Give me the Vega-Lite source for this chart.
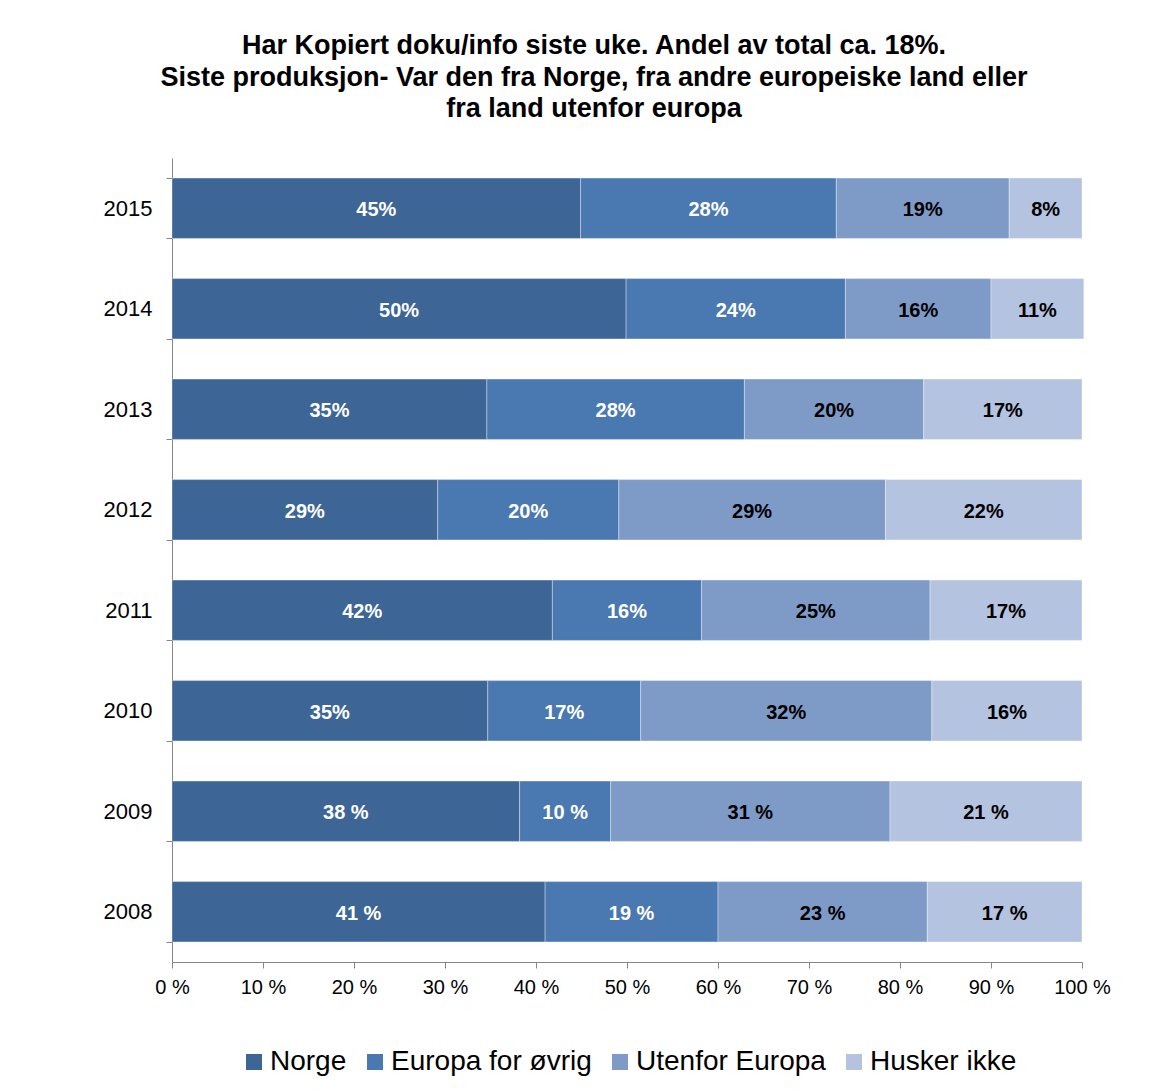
{
  "$schema": "https://vega.github.io/schema/vega-lite/v6.json",
  "width": 910,
  "height": 804,
  "autosize": {"type": "none"},
  "padding": {"left": 172, "top": 158, "right": 85, "bottom": 128},
  "background": "white",
  "config": {"font": "Liberation Sans", "view": {"stroke": null}},
  "title": {
    "text": ["Har Kopiert doku/info siste uke. Andel av total ca. 18%.", "Siste produksjon- Var den fra Norge, fra andre europeiske land eller", "fra land utenfor europa"],
    "fontSize": 27,
    "fontWeight": "bold",
    "color": "black",
    "anchor": "middle",
    "dx": -33,
    "offset": 24,
    "lineHeight": 31.5
  },
  "data": {
    "values": [
      {"year": "2015", "cat": "Norge", "k": 1, "v": 44.9, "lbl": "45%"},
      {"year": "2015", "cat": "Europa for øvrig", "k": 2, "v": 28.1, "lbl": "28%"},
      {"year": "2015", "cat": "Utenfor Europa", "k": 3, "v": 19.0, "lbl": "19%"},
      {"year": "2015", "cat": "Husker ikke", "k": 4, "v": 8.0, "lbl": "8%"},
      {"year": "2014", "cat": "Norge", "k": 1, "v": 49.9, "lbl": "50%"},
      {"year": "2014", "cat": "Europa for øvrig", "k": 2, "v": 24.1, "lbl": "24%"},
      {"year": "2014", "cat": "Utenfor Europa", "k": 3, "v": 16.0, "lbl": "16%"},
      {"year": "2014", "cat": "Husker ikke", "k": 4, "v": 10.2, "lbl": "11%"},
      {"year": "2013", "cat": "Norge", "k": 1, "v": 34.6, "lbl": "35%"},
      {"year": "2013", "cat": "Europa for øvrig", "k": 2, "v": 28.3, "lbl": "28%"},
      {"year": "2013", "cat": "Utenfor Europa", "k": 3, "v": 19.7, "lbl": "20%"},
      {"year": "2013", "cat": "Husker ikke", "k": 4, "v": 17.4, "lbl": "17%"},
      {"year": "2012", "cat": "Norge", "k": 1, "v": 29.2, "lbl": "29%"},
      {"year": "2012", "cat": "Europa for øvrig", "k": 2, "v": 19.9, "lbl": "20%"},
      {"year": "2012", "cat": "Utenfor Europa", "k": 3, "v": 29.3, "lbl": "29%"},
      {"year": "2012", "cat": "Husker ikke", "k": 4, "v": 21.6, "lbl": "22%"},
      {"year": "2011", "cat": "Norge", "k": 1, "v": 41.8, "lbl": "42%"},
      {"year": "2011", "cat": "Europa for øvrig", "k": 2, "v": 16.4, "lbl": "16%"},
      {"year": "2011", "cat": "Utenfor Europa", "k": 3, "v": 25.1, "lbl": "25%"},
      {"year": "2011", "cat": "Husker ikke", "k": 4, "v": 16.7, "lbl": "17%"},
      {"year": "2010", "cat": "Norge", "k": 1, "v": 34.7, "lbl": "35%"},
      {"year": "2010", "cat": "Europa for øvrig", "k": 2, "v": 16.8, "lbl": "17%"},
      {"year": "2010", "cat": "Utenfor Europa", "k": 3, "v": 32.0, "lbl": "32%"},
      {"year": "2010", "cat": "Husker ikke", "k": 4, "v": 16.5, "lbl": "16%"},
      {"year": "2009", "cat": "Norge", "k": 1, "v": 38.2, "lbl": "38 %"},
      {"year": "2009", "cat": "Europa for øvrig", "k": 2, "v": 10.0, "lbl": "10 %"},
      {"year": "2009", "cat": "Utenfor Europa", "k": 3, "v": 30.7, "lbl": "31 %"},
      {"year": "2009", "cat": "Husker ikke", "k": 4, "v": 21.1, "lbl": "21 %"},
      {"year": "2008", "cat": "Norge", "k": 1, "v": 41.0, "lbl": "41 %"},
      {"year": "2008", "cat": "Europa for øvrig", "k": 2, "v": 19.0, "lbl": "19 %"},
      {"year": "2008", "cat": "Utenfor Europa", "k": 3, "v": 23.0, "lbl": "23 %"},
      {"year": "2008", "cat": "Husker ikke", "k": 4, "v": 17.0, "lbl": "17 %"}
    ]
  },
  "encoding": {
    "y": {
      "field": "year",
      "type": "ordinal",
      "sort": "descending",
      "scale": {"paddingInner": 0.4, "paddingOuter": 0.2},
      "axis": {
        "title": null,
        "tickBand": "extent",
        "domainColor": "#868686",
        "tickColor": "#868686",
        "tickSize": 6,
        "labelFontSize": 22,
        "labelColor": "black",
        "labelPadding": 14
      }
    }
  },
  "layer": [
    {
      "mark": {"type": "bar", "stroke": "white", "strokeWidth": 1, "strokeOpacity": 0.35},
      "encoding": {
        "x": {
          "field": "v",
          "type": "quantitative",
          "stack": "zero",
          "scale": {"domain": [0, 100], "nice": false},
          "axis": {
            "title": null,
            "values": [0, 10, 20, 30, 40, 50, 60, 70, 80, 90, 100],
            "labelExpr": "datum.value + ' %'",
            "grid": false,
            "domainColor": "#868686",
            "tickColor": "#868686",
            "tickSize": 6,
            "labelFontSize": 20,
            "labelColor": "black",
            "labelPadding": 9,
            "labelFlush": false
          }
        },
        "color": {
          "field": "cat",
          "type": "nominal",
          "sort": ["Norge", "Europa for øvrig", "Utenfor Europa", "Husker ikke"],
          "scale": {
            "domain": ["Norge", "Europa for øvrig", "Utenfor Europa", "Husker ikke"],
            "range": ["#3D6596", "#4A78B0", "#7E9BC8", "#B4C3DF"]
          },
          "legend": {
            "orient": "none",
            "legendX": 68,
            "legendY": 890,
            "direction": "horizontal",
            "title": null,
            "symbolType": "square",
            "symbolSize": 256,
            "symbolStrokeWidth": 0,
            "labelFontSize": 28,
            "labelColor": "black",
            "labelLimit": 400,
            "columnPadding": 14,
            "labelOffset": 2
          }
        },
        "order": {"field": "k", "type": "quantitative"}
      }
    },
    {
      "mark": {"type": "text", "fontSize": 20, "fontWeight": "bold", "dy": 2},
      "encoding": {
        "x": {"field": "v", "type": "quantitative", "stack": "zero", "bandPosition": 0.5},
        "detail": {"field": "cat", "type": "nominal"},
        "text": {"field": "lbl"},
        "color": {"condition": {"test": "datum.k <= 2", "value": "white"}, "value": "black"},
        "order": {"field": "k", "type": "quantitative"}
      }
    }
  ]
}
